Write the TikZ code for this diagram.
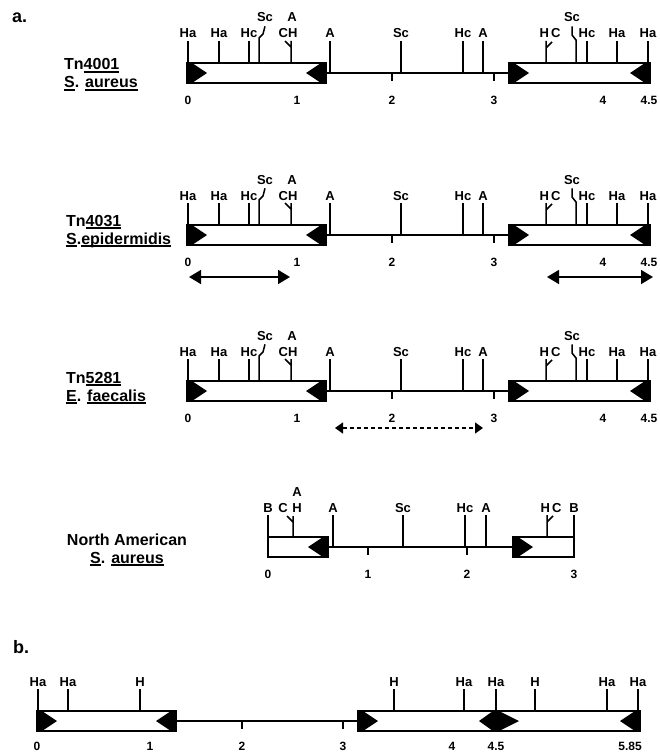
\documentclass[tikz,border=0pt]{standalone}
\usepackage{fontspec}
\setmainfont{Liberation Sans}
\usetikzlibrary{arrows.meta,positioning,calc}
\tikzset{
  site/.style={font=\bfseries\fontsize{13}{14}\selectfont, inner sep=0pt, anchor=base},
  kbnum/.style={font=\bfseries\fontsize{12}{13}\selectfont, inner sep=0pt, anchor=base},
  strain/.style={font=\bfseries\fontsize{16}{18}\selectfont, inner sep=0pt, anchor=base west},
  panel/.style={font=\bfseries\fontsize{18}{20}\selectfont, inner sep=0pt, anchor=base west},
  dna/.style={line width=1.6pt},
  isbox/.style={line width=1.8pt, fill=white},
  cutline/.style={line width=1.5pt},
  span/.style={{Triangle[length=12pt,width=14pt]}-{Triangle[length=12pt,width=14pt]}, line width=1.6pt},
  dspan/.style={{Triangle[length=8pt,width=11pt]}-{Triangle[length=8pt,width=11pt]}, line width=1.4pt,
                dash pattern=on 4pt off 3pt},
}
% thick underline
\newcommand{\ulin}[1]{\begingroup\setbox0\hbox{#1}\rlap{\rule[-2.6pt]{\wd0}{1.3pt}}\box0\endgroup}
% IS256 inverted repeats
\newcommand{\irR}[1]{\fill (#1,-10) -- (#1+5,-10) -- (#1+20,0) -- (#1+5,10) -- (#1,10) -- cycle;}
\newcommand{\irL}[1]{\fill (#1,-10) -- (#1-5,-10) -- (#1-20,0) -- (#1-5,10) -- (#1,10) -- cycle;}
% restriction site: name, x, foot, label
\newcommand{\rsite}[4]{%
  \node[site] (#1) at (#2,-35) {#4};
  \draw[cutline] ([yshift=-3pt]#1.south) -- (#1.south |- 0,#3);}
% Tn4001-type map
\newcommand{\tnmap}[1]{%
  \draw[dna] (326,0) -- (509,0);
  \draw[isbox] (187,-10) rectangle (326,10);
  \draw[isbox] (509,-10) rectangle (650,10);
  \irR{187} \irL{326} \irR{509} \irL{650}
  \draw[dna] (392,0) -- (392,8) (494,0) -- (494,8);
  \foreach \x/\kbl [count=\i] in {188/0,297/1,392/2,494/3,603/4,649/4.5}
    \node[kbnum] (#1-kb\i) at (\x,31) {\kbl};
  \foreach \x/\lab/\ft [count=\i] in {188/Ha/-10,219/Ha/-10,249/Hc/-10,330/A/0,401/Sc/0,
      463/Hc/0,483/A/0,587/Hc/-10,617/Ha/-10,648/Ha/-10}
    {\rsite{#1-s\i}{\x}{\ft}{\lab}}
  \node[site] (#1-ch) at (288,-35) {CH};
  \node[site] (#1-a) at (292,-51) {A};
  \draw[cutline] (291,-10) -- (291,-32) (291,-26) -- (285,-32);
  \node[site] (#1-sc) at (265,-51) {Sc};
  \draw[cutline] (259,-10) -- (259,-35) -- (263,-39) -- ([yshift=-4pt]#1-sc.south);
  \node[site] (#1-hc) at (550,-35) {H\,C};
  \draw[cutline] (546,-10) -- (546,-32) (546,-25) -- (552,-31);
  \node[site] (#1-sc2) at (572,-51) {Sc};
  \draw[cutline] (576,-10) -- (576,-33) -- (572,-38) -- ([yshift=-4pt]#1-sc2.south);
}

\begin{document}
\begin{tikzpicture}[x=1pt, y=-1pt]
  \useasboundingbox (0,0) rectangle (659,752);
  \node[panel] (pa) at (12,23) {a.};
  \node[panel] (pb) at (13,653) {b.};

  % Tn4001
  \node[strain] (tn1) at (64,70) {Tn\ulin{4001}};
  \node[strain] (sp1) at (64,88) {\ulin{S}. \ulin{aureus}};
  \begin{scope}[shift={(0,73)}]
    \tnmap{m1}
  \end{scope}

  % Tn4031
  \node[strain] (tn2) at (66,226) {Tn\ulin{4031}};
  \node[strain] (sp2) at (66,244) {\ulin{S}.\ulin{epidermidis}};
  \begin{scope}[shift={(0,235)}]
    \tnmap{m2}
    \coordinate (l1) at (189,42); \coordinate (l2) at (290,42);
    \coordinate (r1) at (547,42); \coordinate (r2) at (653,42);
    \draw[span] (l1) -- (l2);
    \draw[span] (r1) -- (r2);
  \end{scope}

  % Tn5281
  \node[strain] (tn3) at (66,383) {Tn\ulin{5281}};
  \node[strain] (sp3) at (66,401) {\ulin{E}. \ulin{faecalis}};
  \begin{scope}[shift={(0,391)}]
    \tnmap{m3}
    \coordinate (d1) at (335,37); \coordinate (d2) at (483,37);
    \draw[dspan] (d1) -- (d2);
  \end{scope}

  % North American S. aureus
  \node[strain, anchor=base] (tn4) at (127,545) {North American};
  \node[strain, anchor=base] (sp4) at (127,563) {\ulin{S}. \ulin{aureus}};
  \begin{scope}[shift={(0,547)}]
    \draw[dna] (328,0) -- (513,0);
    \draw[isbox] (268,-10) rectangle (328,10);
    \draw[isbox] (513,-10) rectangle (574,10);
    \irL{328} \irR{513}
    \draw[dna] (368,0) -- (368,8) (467,0) -- (467,8);
    \foreach \x/\kbl [count=\i] in {268/0,368/1,467/2,574/3}
      \node[kbnum] (m4-kb\i) at (\x,31) {\kbl};
    \foreach \x/\lab/\ft [count=\i] in {268/B/-10,333/A/0,403/Sc/0,465/Hc/0,486/A/0,574/B/-10}
      {\rsite{m4-s\i}{\x}{\ft}{\lab}}
    \node[site] (m4-c) at (283,-35) {C};
    \node[site] (m4-h) at (297,-35) {H};
    \node[site] (m4-a) at (297,-51) {A};
    \draw[cutline] (293,-10) -- (293,-31) (293,-25) -- (287,-31);
    \node[site] (m4-hc) at (551,-35) {H\,C};
    \draw[cutline] (547,-10) -- (547,-32) (547,-25) -- (553,-31);
  \end{scope}

  % b.
  \begin{scope}[shift={(0,721)}]
    \draw[dna] (176,0) -- (358,0);
    \draw[isbox] (37,-10) rectangle (176,10);
    \draw[isbox] (358,-10) rectangle (640,10);
    \irR{37} \irL{176} \irR{358} \irL{640}
    \fill (479,0) -- (493,-10) -- (499,-10) -- (519,0) -- (499,10) -- (493,10) -- cycle;
    \draw[dna] (242,0) -- (242,8) (343,0) -- (343,8);
    \foreach \x/\kbl [count=\i] in {37/0,150/1,242/2,343/3,452/4,496/4.5,630/5.85}
      \node[kbnum] (b-kb\i) at (\x,29) {\kbl};
    \foreach \x/\lab [count=\i] in {38/Ha,68/Ha,140/H,394/H,464/Ha,496/Ha,535/H,607/Ha,638/Ha}
      {\rsite{b-s\i}{\x}{-10}{\lab}}
  \end{scope}
\end{tikzpicture}
\end{document}
